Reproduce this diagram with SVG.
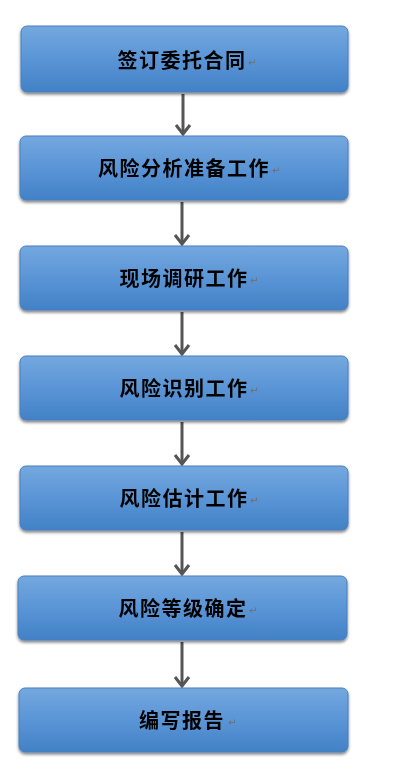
<svg xmlns="http://www.w3.org/2000/svg" width="403" height="771" viewBox="0 0 403 771">
<style>
.box{fill:url(#g);stroke:#4a7fbf;stroke-width:1}
.t{font-family:"Noto Sans CJK SC","Noto Sans CJK JP",sans-serif;font-size:20px;font-weight:bold;letter-spacing:1.5px;fill:#000;text-anchor:middle;dominant-baseline:central}
.pm{font-family:"DejaVu Sans",sans-serif;font-size:10px;fill:#6f6f6f}
.c{stroke:#555;stroke-width:3;fill:none}
</style>
<defs>
<linearGradient id="g" x1="0" y1="0" x2="0" y2="1">
<stop offset="0" stop-color="#74a8df"/>
<stop offset="0.5" stop-color="#5a95d6"/>
<stop offset="1" stop-color="#4281c6"/>
</linearGradient>
<filter id="sh" x="-5%" y="-10%" width="110%" height="130%">
<feGaussianBlur in="SourceAlpha" stdDeviation="1.5"/>
<feOffset dy="2" result="b"/>
<feComponentTransfer><feFuncA type="linear" slope="0.5"/></feComponentTransfer>
<feMerge><feMergeNode/><feMergeNode in="SourceGraphic"/></feMerge>
</filter>
</defs>
<g id="connectors">
<line class="c" x1="183" y1="94" x2="183" y2="134"/>
<path d="M176,125 L183,134 L190,125" class="c" stroke-width="2.5"/>
<line class="c" x1="182" y1="202" x2="182" y2="244"/>
<path d="M175,235 L182,244 L189,235" class="c" stroke-width="2.5"/>
<line class="c" x1="182" y1="312" x2="182" y2="354"/>
<path d="M175,345 L182,354 L189,345" class="c" stroke-width="2.5"/>
<line class="c" x1="182" y1="422" x2="182" y2="464"/>
<path d="M175,455 L182,464 L189,455" class="c" stroke-width="2.5"/>
<line class="c" x1="182" y1="532" x2="182" y2="574"/>
<path d="M175,565 L182,574 L189,565" class="c" stroke-width="2.5"/>
<line class="c" x1="182" y1="642" x2="182" y2="686"/>
<path d="M175,677 L182,686 L189,677" class="c" stroke-width="2.5"/>
</g>
<g id="n1" filter="url(#sh)"><rect class="box" x="21" y="26" width="327" height="66" rx="6"/><text class="t" x="182" y="59">签订委托合同</text><text class="pm" x="248" y="66">↵</text></g>
<g id="n2" filter="url(#sh)"><rect class="box" x="20" y="136" width="328" height="64" rx="6"/><text class="t" x="184" y="167">风险分析准备工作</text><text class="pm" x="272" y="174">↵</text></g>
<g id="n3" filter="url(#sh)"><rect class="box" x="20" y="246" width="328" height="64" rx="6"/><text class="t" x="184" y="277">现场调研工作</text><text class="pm" x="250" y="284">↵</text></g>
<g id="n4" filter="url(#sh)"><rect class="box" x="20" y="356" width="328" height="64" rx="6"/><text class="t" x="184" y="387">风险识别工作</text><text class="pm" x="250" y="394">↵</text></g>
<g id="n5" filter="url(#sh)"><rect class="box" x="20" y="466" width="328" height="64" rx="6"/><text class="t" x="184" y="497">风险估计工作</text><text class="pm" x="250" y="504">↵</text></g>
<g id="n6" filter="url(#sh)"><rect class="box" x="18" y="576" width="329" height="64" rx="6"/><text class="t" x="183" y="607">风险等级确定</text><text class="pm" x="249" y="614">↵</text></g>
<g id="n7" filter="url(#sh)"><rect class="box" x="19" y="688" width="329" height="64" rx="6"/><text class="t" x="182" y="719">编写报告</text><text class="pm" x="228" y="726">↵</text></g>
</svg>
